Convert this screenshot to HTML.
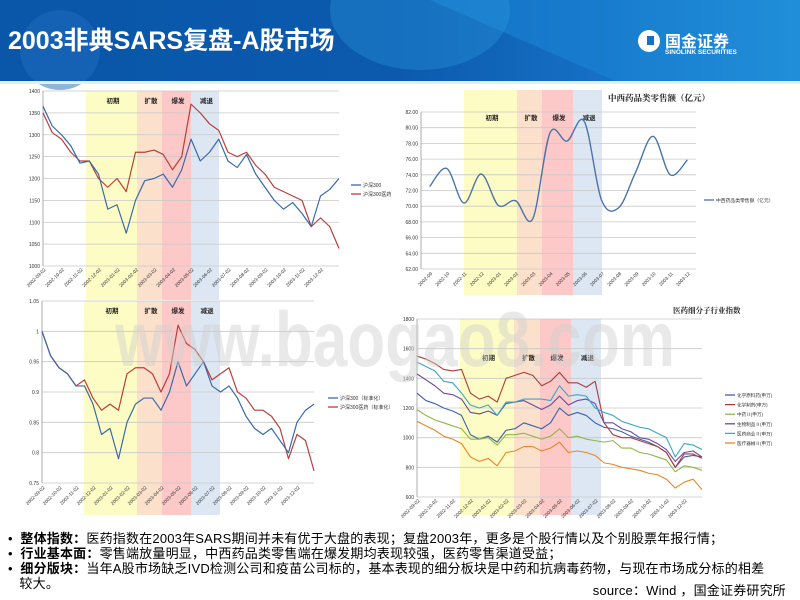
<!DOCTYPE html>
<html><head><meta charset="utf-8">
<style>
html,body{margin:0;padding:0;width:800px;height:600px;overflow:hidden;background:#fff;font-family:"Liberation Sans","Noto Sans CJK SC",sans-serif;}
svg text{font-family:"Liberation Sans","Noto Sans CJK SC",sans-serif;}
.note{position:absolute;left:8px;font-size:13px;letter-spacing:0.2px;color:#000;line-height:15px;white-space:nowrap;}
.note b{font-weight:bold;}
</style></head>
<body>
<svg id="s" width="800" height="600" viewBox="0 0 800 600" xmlns="http://www.w3.org/2000/svg" style="position:absolute;left:0;top:0">
<defs>
<linearGradient id="hg" x1="0" y1="0" x2="1" y2="0">
<stop offset="0" stop-color="#0a56a8"/><stop offset="0.5" stop-color="#0b5aae"/><stop offset="0.75" stop-color="#1670c4"/><stop offset="1" stop-color="#2aa0e2"/>
</linearGradient>
</defs>
<g>
<rect x="0" y="0" width="800" height="83" fill="url(#hg)"/>
<polygon points="430,0 800,0 800,83 620,83" fill="#1a84d4" opacity="0.6"/>
<ellipse cx="420" cy="10" rx="90" ry="60" fill="#2a9ae0" opacity="0.35"/>
<ellipse cx="60" cy="50" rx="40" ry="40" fill="#1f6cc0" opacity="0.5"/>
<rect x="0" y="81" width="800" height="3" fill="#dff0fb"/>
<text x="8" y="49" font-size="25" font-weight="bold" fill="#fff">2003非典SARS复盘-A股市场</text>
<g>
<circle cx="649" cy="41" r="11" fill="#fff"/>
<rect x="647" y="36" width="7" height="9" fill="#1670c4"/>
<text x="665" y="47" font-size="16" font-weight="bold" fill="#fff">国金证券</text>
<text x="665" y="54" font-size="6.5" font-weight="bold" fill="#fff">SINOLINK SECURITIES</text>
</g>
</g>
<g id="charts"></g>
<text x="115" y="366" font-size="78" textLength="560" lengthAdjust="spacingAndGlyphs" fill="#d0d0d0" opacity="0.45" font-weight="bold">www.baogao8.com</text>
</svg>

<div class="note" style="top:531px">• &nbsp;<b>整体指数：</b>医药指数在2003年SARS期间并未有优于大盘的表现；复盘2003年，更多是个股行情以及个别股票年报行情；</div>
<div class="note" style="top:546px">• &nbsp;<b>行业基本面：</b>零售端放量明显，中西药品类零售端在爆发期均表现较强，医药零售渠道受益；</div>
<div class="note" style="top:561px">• &nbsp;<b>细分版块：</b>当年A股市场缺乏IVD检测公司和疫苗公司标的，基本表现的细分板块是中药和抗病毒药物，与现在市场成分标的相差<br>&nbsp;&nbsp;&nbsp;较大。</div>
<div class="note" style="top:583px;left:auto;right:14px">source：Wind ，国金证券研究所</div>

<script>
// ---- data ----
const monthLabels = ["2002-09-02","2002-10-02","2002-11-02","2002-12-02","2003-01-02","2003-02-02","2003-03-02","2003-04-02","2003-05-02","2003-06-02","2003-07-02","2003-08-02","2003-09-02","2003-10-02","2003-11-02","2003-12-02"];
const phaseLabels = ["初期","扩散","爆发","减退"];
const csi300 = [1365,1320,1300,1275,1235,1240,1210,1130,1140,1075,1150,1195,1200,1210,1180,1220,1290,1240,1260,1290,1240,1225,1255,1210,1180,1150,1130,1145,1120,1090,1160,1175,1200];
const csi300Pharma = [1350,1305,1290,1260,1240,1240,1200,1180,1200,1170,1260,1260,1265,1255,1220,1250,1370,1350,1325,1310,1260,1250,1260,1230,1210,1180,1170,1160,1150,1090,1110,1090,1040];
const chart1Ticks = [1000,1050,1100,1150,1200,1250,1300,1350,1400];
const csi300Norm = [1.0,0.96,0.94,0.93,0.91,0.91,0.88,0.83,0.84,0.79,0.85,0.88,0.89,0.89,0.87,0.90,0.95,0.91,0.93,0.95,0.91,0.90,0.91,0.89,0.86,0.84,0.83,0.84,0.82,0.80,0.85,0.87,0.88];
const csi300PharmaNorm = [1.0,0.96,0.94,0.93,0.91,0.92,0.89,0.87,0.88,0.87,0.93,0.94,0.94,0.93,0.90,0.93,1.01,0.98,0.97,0.95,0.92,0.93,0.94,0.90,0.89,0.87,0.87,0.86,0.84,0.79,0.83,0.82,0.77];
const chart3Ticks = [0.75,0.8,0.85,0.9,0.95,1,1.05];
const chart3TickLabels = ["0.75","0.8","0.85","0.9","0.95","1","1.05"];
const retailMonths = ["2002-09","2002-10","2002-11","2002-12","2003-01","2003-02","2003-03","2003-04","2003-05","2003-06","2003-07","2003-08","2003-09","2003-10","2003-11","2003-12"];
const retailSales = [72.5,74.8,70.4,74.1,70.1,70.7,68.4,79.3,78.3,80.8,70.8,69.8,74.4,78.9,74.0,75.9];
const chart2Ticks = [62,64,66,68,70,72,74,76,78,80,82];
const apiIdx = [1300,1250,1230,1200,1180,1150,1020,990,1010,970,1050,1060,1100,1080,1060,1100,1200,1150,1170,1150,1100,1070,1060,1040,1010,990,970,940,900,800,870,880,870];
const chemPrepIdx = [1550,1530,1500,1460,1450,1460,1300,1260,1280,1240,1400,1420,1440,1420,1350,1380,1440,1370,1370,1340,1380,1100,1020,1000,1000,980,960,940,900,800,890,890,860];
const tcmIdx = [1190,1150,1120,1100,1080,1060,990,990,1000,950,1020,1020,1030,1010,990,1010,1060,1000,1010,990,980,970,980,930,930,900,890,870,850,770,810,800,780];
const bioIdx = [1430,1390,1350,1300,1290,1260,1170,1160,1180,1150,1230,1240,1250,1220,1190,1220,1280,1220,1250,1260,1230,1100,1100,1060,1040,1000,990,960,920,840,900,910,870];
const commerceIdx = [1510,1480,1450,1380,1370,1300,1220,1200,1220,1150,1240,1240,1260,1260,1260,1250,1350,1280,1290,1280,1200,1170,1150,1110,1090,1070,1060,1030,1000,870,960,950,920];
const deviceIdx = [1110,1080,1050,1010,990,960,870,840,860,810,900,910,940,940,910,930,970,900,910,900,880,830,820,800,790,780,760,750,720,660,700,720,650];
const chart4Ticks = [600,800,1000,1200,1400,1600,1800];
const subNames = ["化学原料药(申万)","化学制剂(申万)","中药Ⅱ(申万)","生物制品Ⅱ(申万)","医药商业Ⅱ(申万)","医疗器械Ⅱ(申万)"];

const NS="http://www.w3.org/2000/svg";
const root=document.getElementById('charts');
function mk(tag,attrs,parent){const e=document.createElementNS(NS,tag);for(const k in attrs)e.setAttribute(k,attrs[k]);(parent||root).appendChild(e);return e;}
function txt(x,y,s,size,parent,extra){const t=mk('text',Object.assign({x:x,y:y,'font-size':size,fill:'#333'},extra||{}),parent);t.textContent=s;return t;}

function frame(name,x0,x1,y0,y1,bands,ticks,tickLabels,ymin,ymax){
  const g=mk('g',{});
  
  
  const bandColors=['#fdfcc4','#fbe0cc','#fcc8c8','#dde7f4'];
  bands.forEach((b,i)=>{
    const r=mk('rect',{x:b[0],y:b[2],width:b[1]-b[0],height:b[3]-b[2],fill:bandColors[i]},g);
    
    
    const t=txt((b[0]+b[1])/2-5,b[4],phaseLabels[i],6.5,g,{'font-weight':'bold',fill:'#222'});
    
    
  });
  const ys=v=>y1-(v-ymin)/(ymax-ymin)*(y1-y0);
  ticks.forEach((v,i)=>{
    mk('line',{x1:x0,x2:x1,y1:ys(v),y2:ys(v),stroke:'#c8c8c8','stroke-width':0.8},g);
    const t=txt(x0-3,ys(v)+2,tickLabels[i],5,g,{'text-anchor':'end'});
    
    
  });
  mk('line',{x1:x0,x2:x0,y1:y0,y2:y1,stroke:'#999','stroke-width':0.8},g);
  return {g:g,ys:ys};
}
function xLabels(g,labels,xpos,y){
  labels.forEach((s,i)=>{
    const x=xpos(i);
    const t=txt(x,y,s,4.8,g,{'text-anchor':'end',transform:'rotate(-45 '+x+' '+y+')'});
    
    
  });
}
function poly(g,vals,xs,ys,color,name,sw){
  const p=mk('polyline',{points:vals.map((v,i)=>xs(i)+','+ys(v)).join(' '),fill:'none',stroke:color,'stroke-width':sw||1.2,'stroke-linejoin':'round'},g);
  
  
}
function legend(g,x,y,color,label,size){
  mk('line',{x1:x,x2:x+10,y1:y,y2:y,stroke:color,'stroke-width':1.3},g);
  const t=txt(x+12,y+2,label,size||5,g);
  
  
}

// Chart 1
(function(){
  const x0=43,x1=339,y0=91,y1=266;
  const f=frame('chart-csi300-vs-pharma',x0,x1,y0,y1,[[86,137,91,300,103],[137,162,91,300,103],[162,191,91,300,103],[191,219,91,300,103]],chart1Ticks,chart1Ticks.map(String),1000,1400);
  const xs=i=>x0+i/(csi300.length-1)*(x1-x0);
  xLabels(f.g,monthLabels,i=>x0+(2*i)/(csi300.length-1)*(x1-x0)+3,270);
  poly(f.g,csi300Pharma,xs,f.ys,'#b8403a','line-csi300-pharma');
  poly(f.g,csi300,xs,f.ys,'#3a6aaa','line-csi300');
  legend(f.g,351,185,'#3a6aaa','沪深300');
  legend(f.g,351,194,'#b8403a','沪深300医药');
})();

// Chart 3
(function(){
  const x0=42,x1=314,y0=301,y1=483;
  const f=frame('chart-normalized-index',x0,x1,y0,y1,[[84,137,301,515,313],[137,162,301,515,313],[162,191,301,515,313],[191,220,301,515,313]],chart3Ticks,chart3TickLabels,0.75,1.05);
  const xs=i=>x0+i/(csi300Norm.length-1)*(x1-x0);
  xLabels(f.g,monthLabels,i=>x0+(2*i)/(csi300Norm.length-1)*(x1-x0)+3,488);
  poly(f.g,csi300PharmaNorm,xs,f.ys,'#b8403a','line-csi300-pharma-normalized');
  poly(f.g,csi300Norm,xs,f.ys,'#3a6aaa','line-csi300-normalized');
  legend(f.g,328,398,'#3a6aaa','沪深300（标准化）');
  legend(f.g,328,407,'#b8403a','沪深300医药（标准化）');
})();

// Chart 2
(function(){
  const x0=421,x1=696,y0=112,y1=269;
  const f=frame('chart-drug-retail-sales',x0,x1,y0,y1,[[464,517,90,295,120],[517,542,90,295,120],[542,573,90,295,120],[573,602,90,295,120]],chart2Ticks,chart2Ticks.map(v=>v.toFixed(2)),62,82);
  const cw=(x1-x0)/retailSales.length;
  const xs=i=>x0+cw*(i+0.5);
  const pts=retailSales.map((v,i)=>[xs(i),f.ys(v)]);
  let d='M'+pts[0][0]+','+pts[0][1];
  for(let i=0;i<pts.length-1;i++){
    const p0=pts[Math.max(0,i-1)],p1=pts[i],p2=pts[i+1],p3=pts[Math.min(pts.length-1,i+2)];
    const c1=[p1[0]+(p2[0]-p0[0])/6,p1[1]+(p2[1]-p0[1])/6],c2=[p2[0]-(p3[0]-p1[0])/6,p2[1]-(p3[1]-p1[1])/6];
    d+=' C'+c1[0]+','+c1[1]+' '+c2[0]+','+c2[1]+' '+p2[0]+','+p2[1];
  }
  const p=mk('path',{d:d,fill:'none',stroke:'#4a74aa','stroke-width':1.4},f.g);
  
  
  xLabels(f.g,retailMonths,i=>xs(i)+3,274);
  const t=txt(608,101,'中西药品类零售额（亿元）',8.5,f.g,{'font-weight':'bold',fill:'#222',style:"font-family:'Liberation Serif','Noto Serif CJK SC',serif"});
  
  
  legend(f.g,704,200,'#4a74aa','中西药品类零售额（亿元）',4.8);
})();

// Chart 4
(function(){
  const x0=417,x1=702,y0=319,y1=497;
  const f=frame('chart-pharma-subsector-index',x0,x1,y0,y1,[[460,514,319,515,360],[514,540,319,515,360],[540,571,319,515,360],[571,601,319,515,360]],chart4Ticks,chart4Ticks.map(String),600,1800);
  const xs=i=>x0+i/(apiIdx.length-1)*(x1-x0);
  xLabels(f.g,monthLabels,i=>x0+(2*i)/(apiIdx.length-1)*(x1-x0)+3,501);
  const series=[apiIdx,chemPrepIdx,tcmIdx,bioIdx,commerceIdx,deviceIdx];
  const colors=['#3a64a8','#b03a3a','#8cb84c','#6a4a9c','#38a8c8','#e8862a'];
  const names=['line-api','line-chemical-prep','line-tcm','line-biologics','line-pharma-commerce','line-medical-devices'];
  series.forEach((s,k)=>poly(f.g,s,xs,f.ys,colors[k],names[k],1.1));
  series.forEach((s,k)=>legend(f.g,725,395+k*9.6,colors[k],subNames[k],4.6));
  const t=txt(673,313,'医药细分子行业指数',7.5,f.g,{'font-weight':'bold',fill:'#222',style:"font-family:'Liberation Serif','Noto Serif CJK SC',serif"});
  
  
})();
</script>
</body></html>
